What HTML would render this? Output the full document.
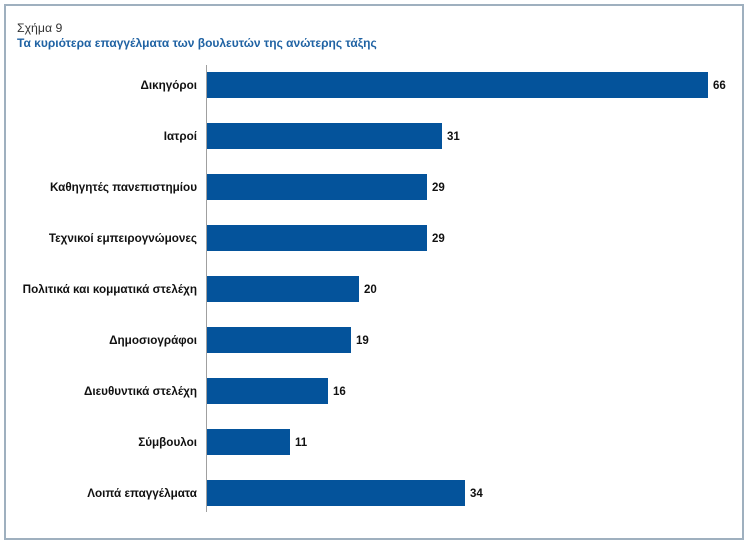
<!DOCTYPE html>
<html><head><meta charset="utf-8"><style>
html,body{margin:0;padding:0;background:#fff;}
body{width:750px;height:547px;overflow:hidden;}
svg text{font-family:"Liberation Sans","DejaVu Sans",sans-serif;}
</style></head><body>
<svg width="750" height="547" viewBox="0 0 750 547" xmlns="http://www.w3.org/2000/svg">
<rect x="0" y="0" width="750" height="547" fill="#fff"/>
<rect x="5" y="5" width="738" height="534" fill="#fff" stroke="#9fb0bf" stroke-width="2"/>
<text x="17" y="32" font-size="12.3" fill="#333">Σχήμα 9</text>
<text x="17" y="47" font-size="12" font-weight="bold" fill="#1f62a3">Τα κυριότερα επαγγέλματα των βουλευτών της ανώτερης τάξης</text>
<line x1="206.5" y1="65" x2="206.5" y2="512" stroke="#a0a0a0" stroke-width="1"/>
<g fill="#04539b">
<rect x="207" y="72" width="501" height="26"/>
<rect x="207" y="123" width="235" height="26"/>
<rect x="207" y="174" width="220" height="26"/>
<rect x="207" y="225" width="220" height="26"/>
<rect x="207" y="276" width="152" height="26"/>
<rect x="207" y="327" width="144" height="26"/>
<rect x="207" y="378" width="121" height="26"/>
<rect x="207" y="429" width="83" height="26"/>
<rect x="207" y="480" width="258" height="26"/>
</g>
<g font-size="11.7" font-weight="bold" fill="#111" text-anchor="end">
<text x="197" y="89">Δικηγόροι</text>
<text x="197" y="140">Ιατροί</text>
<text x="197" y="191">Καθηγητές πανεπιστημίου</text>
<text x="197" y="242">Τεχνικοί εμπειρογνώμονες</text>
<text x="197" y="293">Πολιτικά και κομματικά στελέχη</text>
<text x="197" y="344">Δημοσιογράφοι</text>
<text x="197" y="395">Διευθυντικά στελέχη</text>
<text x="197" y="446">Σύμβουλοι</text>
<text x="197" y="497">Λοιπά επαγγέλματα</text>
</g>
<g font-size="11.5" font-weight="bold" fill="#111">
<text x="713" y="89">66</text>
<text x="447" y="140">31</text>
<text x="432" y="191">29</text>
<text x="432" y="242">29</text>
<text x="364" y="293">20</text>
<text x="356" y="344">19</text>
<text x="333" y="395">16</text>
<text x="295" y="446">11</text>
<text x="470" y="497">34</text>
</g>
</svg>
</body></html>
